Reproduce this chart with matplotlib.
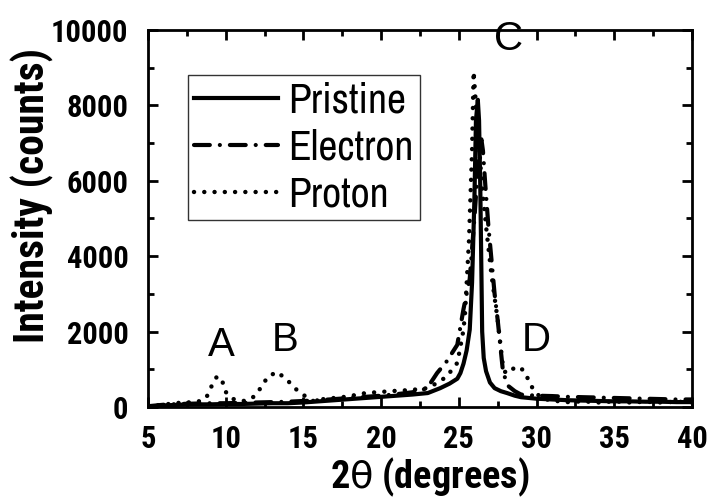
import matplotlib
matplotlib.use("Agg")
import matplotlib.pyplot as plt
from matplotlib import font_manager

# ---------------- data ----------------
pristine_x = [5, 6, 7, 8, 9, 10, 11, 12, 13, 14, 15, 16, 17, 18, 19, 20, 21, 22, 23,
              23.8, 24.4, 24.9, 25.1, 25.3, 25.5, 25.7, 25.85, 26.0, 26.1, 26.22, 26.3,
              26.38, 26.45, 26.5, 26.6, 26.75, 27.0, 27.3, 27.7, 28.1, 28.6, 29.0,
              30, 31, 32, 33, 34, 35, 36, 37, 38, 39, 40]
pristine_y = [10, 40, 60, 70, 70, 80, 80, 90, 100, 100, 120, 150, 180, 210, 240, 270, 300, 330, 370,
              500, 620, 750, 900, 1150, 1500, 2050, 3300, 5500, 7600, 8150, 7600,
              5800, 3600, 2000, 1300, 950, 650, 500, 420, 370, 300, 260,
              220, 200, 180, 170, 160, 150, 150, 140, 140, 130, 130]

electron_x = [5, 6, 7, 8, 9, 10, 11, 12, 13, 14, 15, 16, 17, 18, 19, 20, 21, 22, 22.7,
              23.2, 23.6, 24.2, 24.9, 25.3, 25.7, 26.0, 26.2, 26.35, 26.45, 26.55, 26.7,
              26.9, 27.1, 27.3, 27.5, 27.65, 27.85, 28.2, 28.6, 29, 30, 31, 32, 33, 34,
              35, 36, 37, 38, 39, 40]
electron_y = [20, 60, 80, 90, 100, 100, 110, 120, 130, 140, 160, 180, 210, 240, 270, 300, 340, 390, 450,
              650, 900, 1200, 1650, 2600, 3400, 5000, 6200, 6900, 7100, 6800, 5900,
              4800, 3900, 3000, 2300, 1700, 900, 550, 420, 330, 300, 290, 270, 260, 250,
              240, 230, 220, 210, 200, 200]

proton_x = [5, 5.5, 6, 6.5, 7, 7.5, 8, 8.5, 8.8, 9.1, 9.45, 9.8, 10.0, 10.5, 11.2, 11.8,
            12.3, 12.7, 13.3, 13.9, 14.5, 15.0, 15.6, 16.3, 17, 17.5, 18, 19, 20, 20.6,
            21.9, 23, 23.6, 24.2, 24.9, 25.1, 25.3, 25.4, 25.65, 25.85, 25.95, 26.1,
            26.3, 26.5, 26.8, 27.1, 27.5, 27.8, 28.0, 28.3, 28.6, 28.9, 29.2, 29.5,
            29.8, 30.2, 30.8, 31.5, 32, 33, 34, 35, 36, 37, 38, 39, 40]
proton_y = [0, 40, 60, 90, 110, 120, 130, 170, 290, 560, 820, 660, 400, 210, 160, 270,
            530, 800, 930, 740, 480, 320, 160, 210, 240, 260, 290, 370, 400, 420,
            450, 500, 640, 800, 1170, 1600, 2050, 2500, 4400, 6800, 8900, 8000,
            6900, 5800, 4600, 3500, 2300, 1200, 900, 950, 1050, 1060, 950, 700,
            450, 280, 180, 150, 130, 150, 120, 150, 120, 140, 120, 140, 130]

series_labels = ["Pristine", "Electron", "Proton"]
peak_labels = ["A", "B", "C", "D"]
peak_label_x = [9.7, 13.8, 28.2, 30.0]
peak_label_y = [1650, 1780, 9750, 1780]

x_ticks = [5, 10, 15, 20, 25, 30, 35, 40]
y_ticks = [0, 2000, 4000, 6000, 8000, 10000]

# ---------------- fonts ----------------
names = {f.name for f in font_manager.fontManager.ttflist}
base = "Liberation Sans" if "Liberation Sans" in names else "DejaVu Sans"


def first_of(prefs):
    for p in prefs:
        if p in names:
            return p
    return base


bold_narrow = first_of(["Roboto Condensed", "Liberation Sans Narrow", "Archivo Narrow"])
reg_narrow = first_of(["Archivo Narrow", "Roboto Condensed", "Liberation Sans Narrow"])
plt.rcParams["font.family"] = [base, "DejaVu Sans"]
plt.rcParams["mathtext.fontset"] = "dejavusans"
bold_fam = [bold_narrow, base, "DejaVu Sans"]
reg_fam = [reg_narrow, base, "DejaVu Sans"]

fig = plt.figure(figsize=(7.25, 5), dpi=100)
ax = fig.add_axes([0.2041, 0.186, 0.7504, 0.754])

ax.plot(pristine_x, pristine_y, color="black", lw=3.0, linestyle="-",
        solid_joinstyle="round", label=series_labels[0])
ax.plot(electron_x, electron_y, color="black", lw=3.0,
        linestyle=(0, (3.8, 2.4, 0.01, 2.4)), dash_capstyle="round",
        label=series_labels[1])
ax.plot(proton_x, proton_y, color="black", lw=3.2,
        linestyle=(0, (0.01, 2.3)), dash_capstyle="round", label=series_labels[2])

ax.set_xlim(5, 40)
ax.set_ylim(0, 10000)
ax.set_xticks(x_ticks)
ax.set_yticks(y_ticks)
ax.set_xticks([7.5, 12.5, 17.5, 22.5, 27.5, 32.5, 37.5], minor=True)
ax.set_yticks([1000, 3000, 5000, 7000, 9000], minor=True)
ax.tick_params(which="both", direction="in", top=True, right=True, width=2.0,
               color="black")
ax.tick_params(which="major", length=7)
ax.tick_params(which="minor", length=4)
ax.tick_params(axis="x", which="major", pad=12)
ax.tick_params(axis="y", which="major", pad=14)
for lab in ax.get_xticklabels() + ax.get_yticklabels():
    lab.set_fontweight("bold")
    lab.set_family(bold_fam)
    lab.set_fontsize(22)
for sp in ax.spines.values():
    sp.set_linewidth(2.0)

ax.set_xlabel(r"2$\mathrm{\theta}$ (degrees)", fontsize=27.5, fontweight="bold",
              family=bold_fam)
ax.set_ylabel("Intensity (counts)", fontsize=30, fontweight="bold", family=bold_fam)
ax.xaxis.set_label_coords(0.518, -0.13)
ax.yaxis.set_label_coords(-0.172, 0.56)

for t, xx, yy in zip(peak_labels, peak_label_x, peak_label_y):
    ax.text(xx, yy, t, fontsize=29, ha="center", va="center")

leg = ax.legend(loc="upper left", bbox_to_anchor=(0.0735, 0.881),
                prop={"family": reg_fam, "size": 30},
                frameon=True, fancybox=False, edgecolor="black", handlelength=2.0,
                handletextpad=0.25, borderpad=0.15, labelspacing=0.22, borderaxespad=0)
leg.get_frame().set_linewidth(1.0)

fig.savefig("out.png", dpi=100)
